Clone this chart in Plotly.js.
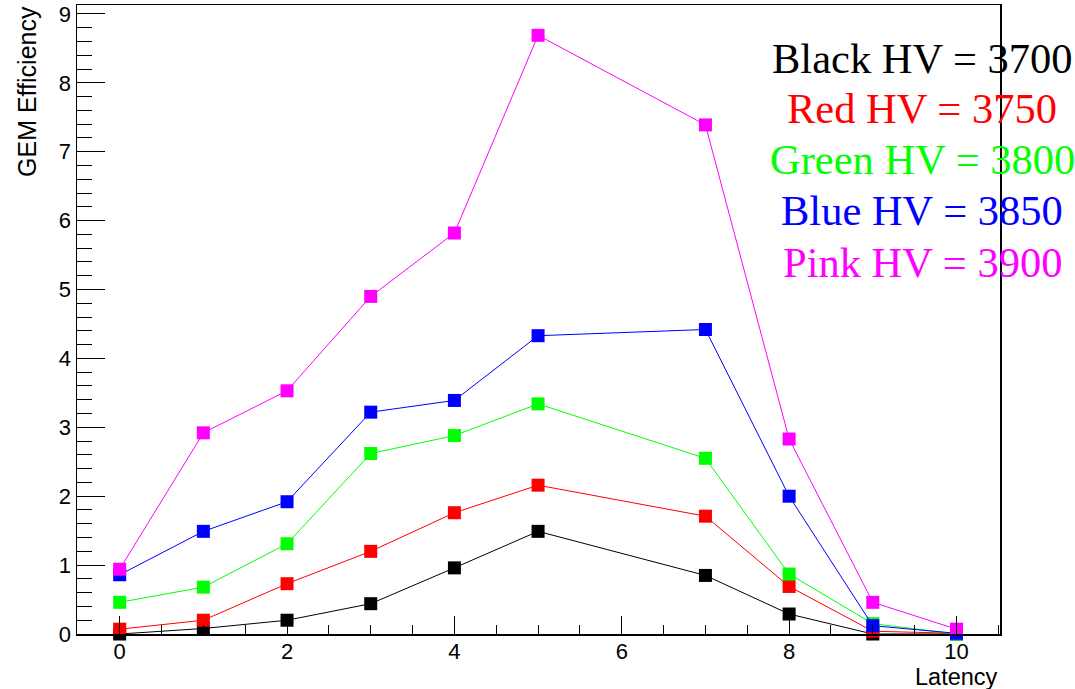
<!DOCTYPE html>
<html>
<head>
<meta charset="utf-8">
<script src="https://cdn.plot.ly/plotly-3.0.1.min.js"></script>
<style>html,body{margin:0;padding:0;background:#fff;}#chart{width:1075px;height:689px;}</style>
</head>
<body>
<div id="chart"></div>
<script>
const latency = [0, 1, 2, 3, 4, 5, 7, 8, 9, 10];
const blackHV3700 = [0.0, 0.08, 0.2, 0.44, 0.96, 1.49, 0.85, 0.29, 0.0, 0.0];
const redHV3750 = [0.07, 0.2, 0.73, 1.2, 1.76, 2.16, 1.71, 0.69, 0.04, 0.01];
const greenHV3800 = [0.46, 0.68, 1.31, 2.62, 2.88, 3.34, 2.55, 0.87, 0.15, 0.0];
const blueHV3850 = [0.86, 1.49, 1.92, 3.22, 3.39, 4.33, 4.42, 2.0, 0.12, 0.01];
const pinkHV3900 = [0.94, 2.92, 3.53, 4.9, 5.82, 8.69, 7.39, 2.83, 0.46, 0.07];

const seriesNames = ["Black HV = 3700", "Red HV = 3750", "Green HV = 3800", "Blue HV = 3850", "Pink HV = 3900"];
const seriesValues = [blackHV3700, redHV3750, greenHV3800, blueHV3850, pinkHV3900];
const seriesColors = ["#000000", "#ff0000", "#00ff00", "#0000ff", "#ff00ff"];

const traces = seriesValues.map((vals, i) => ({
  x: latency,
  y: vals,
  type: "scatter",
  mode: "lines+markers",
  name: seriesNames[i],
  line: {color: seriesColors[i], width: 1},
  marker: {symbol: "square", size: 13, color: seriesColors[i], line: {width: 0}},
  cliponaxis: false,
  showlegend: false
}));

const legendY = [0.9157, 0.836, 0.7536, 0.6725, 0.5914];
const annotations = seriesNames.map((t, i) => ({
  text: t, xref: "paper", yref: "paper", x: 0.9155, y: legendY[i],
  xanchor: "center", yanchor: "middle", showarrow: false,
  font: {family: "Liberation Serif, Times New Roman, serif", size: 42.5, color: seriesColors[i]}
}));
annotations.push({
  text: "GEM Efficiency", xref: "paper", yref: "paper", x: -0.054, y: 0.862,
  xanchor: "center", yanchor: "middle", textangle: -90, showarrow: false,
  font: {family: "Liberation Sans, Arial, sans-serif", size: 25, color: "#000"}
});
annotations.push({
  text: "Latency", xref: "paper", yref: "paper", x: 1, y: -0.0685,
  xanchor: "right", yanchor: "middle", showarrow: false,
  font: {family: "Liberation Sans, Arial, sans-serif", size: 23.5, color: "#000"}
});

const tickFont = {family: "Liberation Sans, Arial, sans-serif", size: 22, color: "#000"};

const layout = {
  width: 1075, height: 689,
  margin: {l: 77, r: 75, t: 5, b: 55},
  paper_bgcolor: "#fff", plot_bgcolor: "#fff",
  showlegend: false,
  xaxis: {
    range: [-0.51, 10.52], showgrid: false, zeroline: false,
    showline: true, linecolor: "#000", linewidth: 1.5, mirror: true,
    ticks: "inside", ticklen: 18, tickwidth: 1, tickcolor: "#000",
    tick0: 0, dtick: 2, tickfont: tickFont, ticklabelstandoff: -3,
    minor: {dtick: 0.5, ticks: "inside", ticklen: 9, tickwidth: 1, tickcolor: "#000", showgrid: false}
  },
  yaxis: {
    range: [0, 9.13], showgrid: false, zeroline: false,
    showline: true, linecolor: "#000", linewidth: 1.5, mirror: true,
    ticks: "inside", ticklen: 28, tickwidth: 1, tickcolor: "#000",
    tick0: 0, dtick: 1, tickfont: tickFont,
    minor: {dtick: 0.2, ticks: "inside", ticklen: 15, tickwidth: 1, tickcolor: "#000", showgrid: false}
  },
  annotations: annotations
};

Plotly.newPlot("chart", traces, layout, {displayModeBar: false, staticPlot: true});
</script>
</body>
</html>
